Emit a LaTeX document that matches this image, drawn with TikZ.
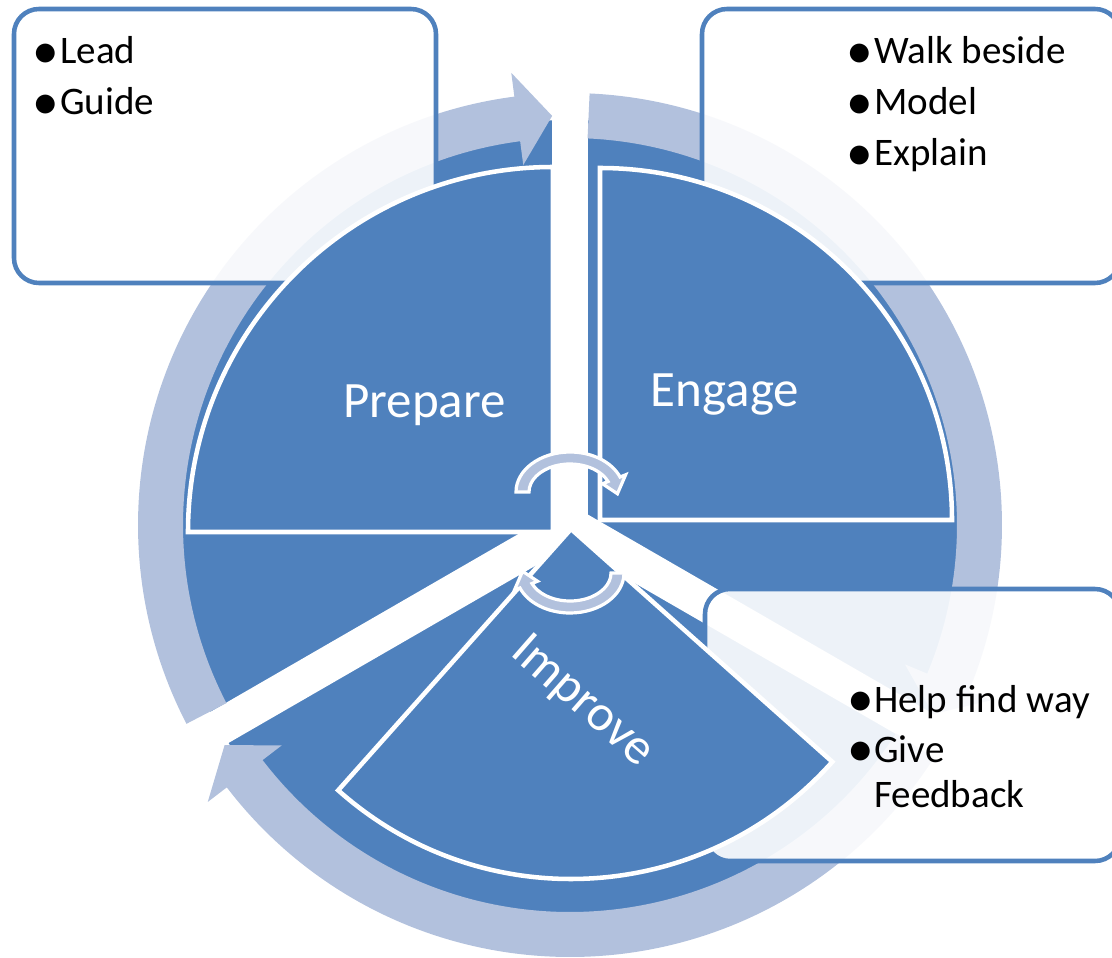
\documentclass[tikz,border=0pt]{standalone}
\usepackage{fontspec}
\setmainfont{Carlito}
\definecolor{accblue}{RGB}{79,129,189}
\definecolor{ringblue}{RGB}{178,193,221}
\begin{document}
\begin{tikzpicture}[x=0.75pt,y=0.75pt,
  disk/.style={fill=accblue},
  gapband/.style={fill=white},
  ringpiece/.style={fill=ringblue},
  textbox/.style={draw=accblue, line width=3.4pt, fill=white, fill opacity=0.9, rounded corners=18.75pt},
  sector/.style={fill=accblue, draw=white, line width=3.4pt, line join=miter},
  smallarrow/.style={fill=ringblue, draw=white, line width=2.4pt, line join=miter},
  seclabel/.style={text=white, inner sep=0pt, font=\fontsize{38.25}{46}\selectfont},
  item/.style={text=black, inner sep=0pt, anchor=base west, font=\fontsize{29.25}{35}\selectfont},
  bulletmark/.style={text=black, inner sep=0pt, anchor=center, font=\fontsize{40}{44}\selectfont}]
\useasboundingbox (-570,-432) rectangle (542,525);
\clip (-570,-432) rectangle (542,525);
% blue disk
\fill[disk] (0,0) circle[radius=405];
% white gaps
\foreach \a in {90,210,330}
  \fill[gapband, rotate=\a] (-5,-18) rectangle (480,18);
% circular arrow ring
\foreach \r in {0,-120,-240}
  \fill[ringpiece, rotate=\r] (207.4:432) arc[start angle=207.4, end angle=97.4, radius=432]
     -- (97.4:456) -- (92.5:409.5) -- (97.4:363) -- (97.4:387)
     arc[start angle=97.4, end angle=207.4, radius=387] -- cycle;
% text boxes
\path[textbox] (-556,242) rectangle (-134,516);
\path[textbox] (132,242) rectangle (550,516);
\path[textbox] (135,-336) rectangle (550,-64);
% inner sectors
\path[sector] (-17,-7) -- (-382,-7) arc[start angle=180, end angle=90, radius=365] -- cycle;
\path[sector] (30,5) -- (30,357) arc[start angle=90, end angle=0, radius=352] -- cycle;
\path[sector] (1,-4) -- ++(228.3:350) arc[start angle=228.3, end angle=318.3, radius=350] -- cycle;
% sector labels
\node[seclabel, anchor=base] (prep) at (-145.5,108) {Prepare};
\node[seclabel, anchor=base] (eng) at (155,119) {Engage};
\node[seclabel, anchor=base west, rotate=-41.2] (impr) at (-61,-129.4) {Improve};
% small circular arrows
\begin{scope}[shift={(0,33)}]
  \path[smallarrow] (180:54 and 40) arc[start angle=180, end angle=22, x radius=54, y radius=40]
     -- (22:60 and 46) -- (-3:47.5 and 34) -- (22:35 and 22) -- (22:41 and 28)
     arc[start angle=22, end angle=180, x radius=41, y radius=28] -- cycle;
\end{scope}
\begin{scope}[shift={(0,-48)}, rotate=180]
  \path[smallarrow] (180:54 and 40) arc[start angle=180, end angle=22, x radius=54, y radius=40]
     -- (22:60 and 46) -- (-3:47.5 and 34) -- (22:35 and 22) -- (22:41 and 28)
     arc[start angle=22, end angle=180, x radius=41, y radius=28] -- cycle;
\end{scope}
% box texts
\node[bulletmark] (b1) at (-524,469) {•};
\node[item] (lead) at (-510,461) {Lead};
\node[bulletmark] (b2) at (-524,418) {•};
\node[item] (guide) at (-510,410) {Guide};
\node[bulletmark] (b3) at (290,469) {•};
\node[item] (walk) at (304,461) {Walk beside};
\node[bulletmark] (b4) at (290,418) {•};
\node[item] (model) at (304,410) {Model};
\node[bulletmark] (b5) at (290,367) {•};
\node[item] (explain) at (304,359) {Explain};
\node[bulletmark] (b6) at (291,-179) {•};
\node[item] (help) at (304,-187) {Help find way};
\node[bulletmark] (b7) at (291,-229) {•};
\node[item] (give) at (304,-237) {Give};
\node[item] (feedback) at (304,-282) {Feedback};
\end{tikzpicture}
\end{document}
